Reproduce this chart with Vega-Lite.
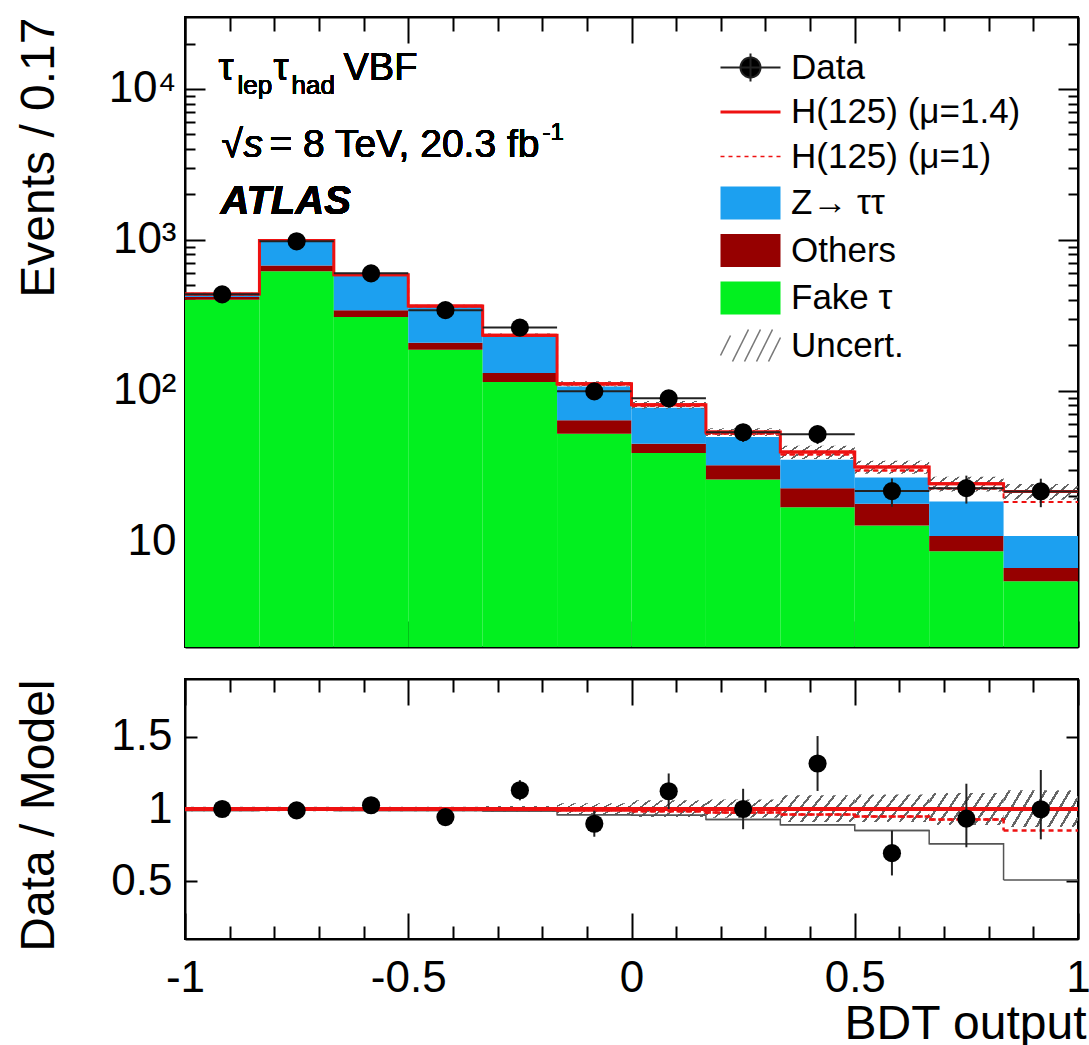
{
  "$schema": "https://vega.github.io/schema/vega-lite/v6.json",
  "padding": {"left": 14, "top": 15, "right": 2, "bottom": 2},
  "background": "white",
  "bounds": "flush",
  "spacing": 32,
  "config": {
    "view": {"stroke": "black", "strokeWidth": 2},
    "font": "Liberation Sans",
    "text": {"font": "Liberation Sans", "color": "black"},
    "axis": {
      "labelFont": "Liberation Sans", "titleFont": "Liberation Sans",
      "labelFontSize": 44, "titleFontSize": 48, "titleFontWeight": "normal",
      "labelColor": "black", "titleColor": "black",
      "domain": true, "domainColor": "black", "domainWidth": 2,
      "grid": false, "ticks": true, "tickColor": "black", "tickWidth": 2,
      "labelOverlap": false, "labelFlush": false, "labelBound": false, "zindex": 1
    }
  },
  "datasets": {
    "bins": [
      {"lo": -1, "hi": -0.8333, "mid": -0.9167, "fake": 400, "others": 418, "ztt": 432, "total": 437, "mu1": 436, "ulo": 428, "uhi": 446, "data": 435, "dlo": 414, "dhi": 456, "r": 1.0, "rlo": 0.952, "rhi": 1.048, "bkgr": 0.99, "mu1r": 0.997, "rulo": 0.985, "ruhi": 1.015},
      {"lo": -0.8333, "hi": -0.6667, "mid": -0.75, "fake": 618, "others": 677, "ztt": 985, "total": 991, "mu1": 989, "ulo": 971, "uhi": 1011, "data": 978, "dlo": 947, "dhi": 1009, "r": 0.99, "rlo": 0.958, "rhi": 1.022, "bkgr": 0.994, "mu1r": 0.998, "rulo": 0.985, "ruhi": 1.015},
      {"lo": -0.6667, "hi": -0.5, "mid": -0.5833, "fake": 308, "others": 341, "ztt": 582, "total": 587, "mu1": 586, "ulo": 575, "uhi": 599, "data": 600, "dlo": 575, "dhi": 625, "r": 1.026, "rlo": 0.984, "rhi": 1.068, "bkgr": 0.99, "mu1r": 0.997, "rulo": 0.985, "ruhi": 1.015},
      {"lo": -0.5, "hi": -0.3333, "mid": -0.4167, "fake": 187, "others": 208, "ztt": 360, "total": 364, "mu1": 363, "ulo": 357, "uhi": 371, "data": 342, "dlo": 324, "dhi": 360, "r": 0.944, "rlo": 0.893, "rhi": 0.995, "bkgr": 0.99, "mu1r": 0.997, "rulo": 0.985, "ruhi": 1.015},
      {"lo": -0.3333, "hi": -0.1667, "mid": -0.25, "fake": 114, "others": 131, "ztt": 230, "total": 233, "mu1": 232, "ulo": 227, "uhi": 239, "data": 262, "dlo": 246, "dhi": 278, "r": 1.13, "rlo": 1.06, "rhi": 1.2, "bkgr": 0.987, "mu1r": 0.996, "rulo": 0.98, "ruhi": 1.02},
      {"lo": -0.1667, "hi": 0, "mid": -0.0833, "fake": 51.8, "others": 63.6, "ztt": 106.6, "total": 111, "mu1": 110, "ulo": 106.5, "uhi": 115.5, "data": 99, "dlo": 89, "dhi": 109, "r": 0.898, "rlo": 0.808, "rhi": 0.988, "bkgr": 0.96, "mu1r": 0.99, "rulo": 0.96, "ruhi": 1.04},
      {"lo": 0, "hi": 0.1667, "mid": 0.0833, "fake": 38.6, "others": 44.5, "ztt": 77.1, "total": 80.7, "mu1": 79.5, "ulo": 75.9, "uhi": 85.5, "data": 89, "dlo": 79.6, "dhi": 98.4, "r": 1.123, "rlo": 1.0, "rhi": 1.246, "bkgr": 0.956, "mu1r": 0.985, "rulo": 0.945, "ruhi": 1.06},
      {"lo": 0.1667, "hi": 0.3333, "mid": 0.25, "fake": 25.8, "others": 32, "ztt": 49.4, "total": 53.2, "mu1": 51.9, "ulo": 50, "uhi": 56.4, "data": 53, "dlo": 45.7, "dhi": 60.3, "r": 1.0, "rlo": 0.86, "rhi": 1.14, "bkgr": 0.928, "mu1r": 0.975, "rulo": 0.94, "ruhi": 1.065},
      {"lo": 0.3333, "hi": 0.5, "mid": 0.4167, "fake": 16.9, "others": 22.6, "ztt": 34.9, "total": 39.2, "mu1": 37.7, "ulo": 35.3, "uhi": 43.1, "data": 51.5, "dlo": 44.3, "dhi": 58.7, "r": 1.315, "rlo": 1.125, "rhi": 1.505, "bkgr": 0.891, "mu1r": 0.962, "rulo": 0.91, "ruhi": 1.095},
      {"lo": 0.5, "hi": 0.6667, "mid": 0.5833, "fake": 12.8, "others": 17.8, "ztt": 26.6, "total": 31.2, "mu1": 29.6, "ulo": 28.1, "uhi": 34.3, "data": 21.6, "dlo": 17, "dhi": 26.2, "r": 0.694, "rlo": 0.54, "rhi": 0.85, "bkgr": 0.852, "mu1r": 0.948, "rulo": 0.91, "ruhi": 1.1},
      {"lo": 0.6667, "hi": 0.8333, "mid": 0.75, "fake": 8.61, "others": 10.9, "ztt": 18.4, "total": 24.2, "mu1": 22.5, "ulo": 21.5, "uhi": 26.9, "data": 22.6, "dlo": 17.85, "dhi": 27.35, "r": 0.933, "rlo": 0.735, "rhi": 1.175, "bkgr": 0.759, "mu1r": 0.928, "rulo": 0.89, "ruhi": 1.11},
      {"lo": 0.8333, "hi": 1, "mid": 0.9167, "fake": 5.45, "others": 6.68, "ztt": 10.9, "total": 21.5, "mu1": 18.3, "ulo": 18.9, "uhi": 24.1, "data": 21.5, "dlo": 16.9, "dhi": 26.1, "r": 0.998, "rlo": 0.79, "rhi": 1.27, "bkgr": 0.509, "mu1r": 0.852, "rulo": 0.875, "ruhi": 1.13}
    ]
  },
  "resolve": {"scale": {"color": "independent"}},
  "vconcat": [
    {
      "width": 893,
      "height": 630,
      "data": {"name": "bins"},
      "resolve": {"axis": {"x": "independent", "y": "independent"}},
      "layer": [
        {
          "mark": {"type": "rect"},
          "encoding": {
            "x": {"field": "lo", "type": "quantitative", "scale": {"domain": [-1, 1], "nice": false},
              "axis": {"orient": "bottom", "values": [-1, -0.5, 0, 0.5, 1], "labels": false, "title": null, "tickSize": -26}},
            "x2": {"field": "hi"},
            "y": {"field": "fake", "type": "quantitative", "scale": {"type": "log", "domain": [2, 30000], "nice": false},
              "axis": {"orient": "left", "values": [10, 100, 1000, 10000], "tickSize": -20,
                "labelExpr": "datum.value == 10 ? '10' : datum.value == 100 ? '10²' : datum.value == 1000 ? '10³' : '10⁴'",
                "labelPadding": 29, "title": "Events / 0.17", "titleAnchor": "end", "titlePadding": 12, "minExtent": 110, "maxExtent": 110}},
            "y2": {"datum": 2},
            "color": {"datum": "Fake τ", "type": "nominal",
              "scale": {"domain": ["Data", "H(125) (μ=1.4)", "H(125) (μ=1)", "Z→ ττ", "Others", "Fake τ", "Uncert."],
                "range": ["#000000", "#ee1111", "#ee1111", "#1ca0f0", "#960000", "#02f01f", "#777777"]},
              "legend": {"title": null, "orient": "none", "legendX": 548, "legendY": 33, "padding": 0,
                "symbolSize": 1600, "symbolStrokeWidth": 0, "labelFontSize": 35, "labelFont": "Liberation Sans", "labelColor": "black",
                "labelOffset": 23, "rowPadding": 8.5, "labelLimit": 500,
                "encode": {"symbols": {"update": {
                  "shape": {"signal": "datum.value === 'Data' ? 'M-1.5,0H1.5M0,-0.7V0.7M0.5,0A0.5,0.5 0 1,1 -0.5,0A0.5,0.5 0 1,1 0.5,0Z' : datum.value === 'Uncert.' ? 'M-1.5,0.5L-1.0,-0.5M-0.9,0.8L-0.1,-0.8M-0.3,0.8L0.5,-0.8M0.3,0.8L1.1,-0.8M0.9,0.8L1.5,-0.4' : indexof(['H(125) (μ=1.4)', 'H(125) (μ=1)'], datum.value) >= 0 ? 'M-1.5,0H1.5' : 'M-1.5,-0.82H1.5V0.82H-1.5Z'"},
                  "fill": {"signal": "datum.value === 'Data' ? 'black' : datum.value === 'Others' ? '#960000' : datum.value === 'Fake τ' ? '#02f01f' : datum.value === 'Z→ ττ' ? '#1ca0f0' : 'transparent'"},
                  "stroke": {"signal": "datum.value === 'Data' ? '#222222' : datum.value === 'Uncert.' ? '#777777' : indexof(['H(125) (μ=1.4)', 'H(125) (μ=1)'], datum.value) >= 0 ? '#ee1111' : 'transparent'"},
                  "strokeWidth": {"signal": "datum.value === 'H(125) (μ=1.4)' ? 3 : datum.value === 'Data' ? 2 : 1.5"},
                  "strokeDash": {"signal": "datum.value === 'H(125) (μ=1)' ? [4, 4] : [1, 0]"},
                  "opacity": {"value": 1}
                }}}}}
          }
        },
        {
          "mark": {"type": "rect"},
          "encoding": {
            "x": {"field": "lo", "type": "quantitative",
              "axis": {"orient": "bottom", "values": [-0.9, -0.8, -0.7, -0.6, -0.4, -0.3, -0.2, -0.1, 0.1, 0.2, 0.3, 0.4, 0.6, 0.7, 0.8, 0.9], "labels": false, "title": null, "tickSize": -14, "domain": false}},
            "x2": {"field": "hi"},
            "y": {"field": "others", "type": "quantitative",
              "axis": {"orient": "left", "values": [3, 4, 5, 6, 7, 8, 9, 20, 30, 40, 50, 60, 70, 80, 90, 200, 300, 400, 500, 600, 700, 800, 900, 2000, 3000, 4000, 5000, 6000, 7000, 8000, 9000, 20000], "labels": false, "title": null, "tickSize": -10, "domain": false}},
            "y2": {"field": "fake"},
            "color": {"datum": "Others", "type": "nominal"}
          }
        },
        {
          "mark": {"type": "rect"},
          "encoding": {
            "x": {"field": "lo", "type": "quantitative",
              "axis": {"orient": "top", "values": [-1, -0.5, 0, 0.5, 1], "labels": false, "title": null, "tickSize": -26}},
            "x2": {"field": "hi"},
            "y": {"field": "ztt", "type": "quantitative",
              "axis": {"orient": "right", "values": [10, 100, 1000, 10000], "labels": false, "title": null, "tickSize": -20}},
            "y2": {"field": "others"},
            "color": {"datum": "Z→ ττ", "type": "nominal"}
          }
        },
        {
          "mark": {"type": "rect", "fill": {"gradient": "linear", "x1": 0, "y1": 0, "x2": 1.2, "y2": 0.3, "stops": [
            {"offset": 0, "color": "rgba(255,255,255,0)"}, {"offset": 0.0485, "color": "rgba(255,255,255,0)"}, {"offset": 0.0485, "color": "#666666"}, {"offset": 0.0765, "color": "#666666"}, {"offset": 0.0765, "color": "rgba(255,255,255,0)"},
            {"offset": 0.1735, "color": "rgba(255,255,255,0)"}, {"offset": 0.1735, "color": "#666666"}, {"offset": 0.2015, "color": "#666666"}, {"offset": 0.2015, "color": "rgba(255,255,255,0)"},
            {"offset": 0.2985, "color": "rgba(255,255,255,0)"}, {"offset": 0.2985, "color": "#666666"}, {"offset": 0.3265, "color": "#666666"}, {"offset": 0.3265, "color": "rgba(255,255,255,0)"},
            {"offset": 0.4235, "color": "rgba(255,255,255,0)"}, {"offset": 0.4235, "color": "#666666"}, {"offset": 0.4515, "color": "#666666"}, {"offset": 0.4515, "color": "rgba(255,255,255,0)"},
            {"offset": 0.5485, "color": "rgba(255,255,255,0)"}, {"offset": 0.5485, "color": "#666666"}, {"offset": 0.5765, "color": "#666666"}, {"offset": 0.5765, "color": "rgba(255,255,255,0)"},
            {"offset": 0.6735, "color": "rgba(255,255,255,0)"}, {"offset": 0.6735, "color": "#666666"}, {"offset": 0.7015, "color": "#666666"}, {"offset": 0.7015, "color": "rgba(255,255,255,0)"},
            {"offset": 0.7985, "color": "rgba(255,255,255,0)"}, {"offset": 0.7985, "color": "#666666"}, {"offset": 0.8265, "color": "#666666"}, {"offset": 0.8265, "color": "rgba(255,255,255,0)"},
            {"offset": 0.9235, "color": "rgba(255,255,255,0)"}, {"offset": 0.9235, "color": "#666666"}, {"offset": 0.9515, "color": "#666666"}, {"offset": 0.9515, "color": "rgba(255,255,255,0)"},
            {"offset": 1, "color": "rgba(255,255,255,0)"}]}},
          "encoding": {
            "x": {"field": "lo", "type": "quantitative",
              "axis": {"orient": "top", "values": [-0.9, -0.8, -0.7, -0.6, -0.4, -0.3, -0.2, -0.1, 0.1, 0.2, 0.3, 0.4, 0.6, 0.7, 0.8, 0.9], "labels": false, "title": null, "tickSize": -14, "domain": false}},
            "x2": {"field": "hi"},
            "y": {"field": "ulo", "type": "quantitative",
              "axis": {"orient": "right", "values": [3, 4, 5, 6, 7, 8, 9, 20, 30, 40, 50, 60, 70, 80, 90, 200, 300, 400, 500, 600, 700, 800, 900, 2000, 3000, 4000, 5000, 6000, 7000, 8000, 9000, 20000], "labels": false, "title": null, "tickSize": -10, "domain": false}},
            "y2": {"field": "uhi"}
          }
        },
        {
          "mark": {"type": "rule", "color": "#ee1111", "strokeWidth": 2, "strokeDash": [5, 4]},
          "encoding": {
            "x": {"field": "lo", "type": "quantitative", "axis": null},
            "x2": {"field": "hi"},
            "y": {"field": "mu1", "type": "quantitative", "axis": null}
          }
        },
        {
          "mark": {"type": "line", "color": "#ee1111", "strokeWidth": 2, "strokeDash": [5, 4], "interpolate": "step-after"},
          "encoding": {
            "x": {"field": "lo", "type": "quantitative", "axis": null},
            "y": {"field": "mu1", "type": "quantitative", "axis": null}
          }
        },
        {
          "mark": {"type": "rule", "color": "#ee1111", "strokeWidth": 3},
          "encoding": {
            "x": {"field": "lo", "type": "quantitative", "axis": null},
            "x2": {"field": "hi"},
            "y": {"field": "total", "type": "quantitative", "axis": null}
          }
        },
        {
          "mark": {"type": "line", "color": "#ee1111", "strokeWidth": 3, "interpolate": "step-after"},
          "encoding": {
            "x": {"field": "lo", "type": "quantitative", "axis": null},
            "y": {"field": "total", "type": "quantitative", "axis": null}
          }
        },
        {
          "mark": {"type": "rule", "color": "#222222", "strokeWidth": 2},
          "encoding": {
            "x": {"field": "lo", "type": "quantitative", "axis": null},
            "x2": {"field": "hi"},
            "y": {"field": "data", "type": "quantitative", "axis": null}
          }
        },
        {
          "mark": {"type": "rule", "color": "#222222", "strokeWidth": 2},
          "encoding": {
            "x": {"field": "mid", "type": "quantitative", "axis": null},
            "y": {"field": "dlo", "type": "quantitative", "axis": null},
            "y2": {"field": "dhi"}
          }
        },
        {
          "mark": {"type": "circle", "color": "black", "size": 330, "opacity": 1},
          "encoding": {
            "x": {"field": "mid", "type": "quantitative", "axis": null},
            "y": {"field": "data", "type": "quantitative", "axis": null}
          }
        },
        {
          "mark": {"type": "text", "text": "τ", "fontSize": 38, "align": "left", "baseline": "alphabetic"},
          "encoding": {"x": {"datum": -0.925, "type": "quantitative", "axis": null}, "y": {"datum": 11430, "type": "quantitative", "axis": null}}
        },
        {
          "mark": {"type": "text", "text": "lep", "fontSize": 26, "align": "left", "baseline": "alphabetic", "dx": 19, "dy": 14},
          "encoding": {"x": {"datum": -0.925, "type": "quantitative", "axis": null}, "y": {"datum": 11430, "type": "quantitative", "axis": null}}
        },
        {
          "mark": {"type": "text", "text": "τ", "fontSize": 38, "align": "left", "baseline": "alphabetic", "dx": 55},
          "encoding": {"x": {"datum": -0.925, "type": "quantitative", "axis": null}, "y": {"datum": 11430, "type": "quantitative", "axis": null}}
        },
        {
          "mark": {"type": "text", "text": "had", "fontSize": 26, "align": "left", "baseline": "alphabetic", "dx": 73, "dy": 14},
          "encoding": {"x": {"datum": -0.925, "type": "quantitative", "axis": null}, "y": {"datum": 11430, "type": "quantitative", "axis": null}}
        },
        {
          "mark": {"type": "text", "text": "VBF", "fontSize": 38, "align": "left", "baseline": "alphabetic", "dx": 125},
          "encoding": {"x": {"datum": -0.925, "type": "quantitative", "axis": null}, "y": {"datum": 11430, "type": "quantitative", "axis": null}}
        },
        {
          "mark": {"type": "text", "text": "√", "fontSize": 39, "align": "left", "baseline": "alphabetic", "dx": 3},
          "encoding": {"x": {"datum": -0.925, "type": "quantitative", "axis": null}, "y": {"datum": 3533, "type": "quantitative", "axis": null}}
        },
        {
          "mark": {"type": "text", "text": "s", "fontSize": 39, "fontStyle": "italic", "align": "left", "baseline": "alphabetic", "dx": 25},
          "encoding": {"x": {"datum": -0.925, "type": "quantitative", "axis": null}, "y": {"datum": 3533, "type": "quantitative", "axis": null}}
        },
        {
          "mark": {"type": "text", "text": "= 8 TeV, 20.3 fb", "fontSize": 39, "align": "left", "baseline": "alphabetic", "dx": 51},
          "encoding": {"x": {"datum": -0.925, "type": "quantitative", "axis": null}, "y": {"datum": 3533, "type": "quantitative", "axis": null}}
        },
        {
          "mark": {"type": "text", "text": "-1", "fontSize": 24, "align": "left", "baseline": "alphabetic", "dx": 324, "dy": -17},
          "encoding": {"x": {"datum": -0.925, "type": "quantitative", "axis": null}, "y": {"datum": 3533, "type": "quantitative", "axis": null}}
        },
        {
          "mark": {"type": "text", "text": "ATLAS", "fontSize": 40, "fontStyle": "italic", "fontWeight": "bold", "align": "left", "baseline": "alphabetic", "dx": 2},
          "encoding": {"x": {"datum": -0.925, "type": "quantitative", "axis": null}, "y": {"datum": 1480, "type": "quantitative", "axis": null}}
        }
      ]
    },
    {
      "width": 893,
      "height": 260,
      "data": {"name": "bins"},
      "resolve": {"axis": {"x": "independent", "y": "independent"}},
      "layer": [
        {
          "mark": {"type": "rect", "fill": {"gradient": "linear", "x1": 0, "y1": 0, "x2": 1.2, "y2": 0.35, "stops": [
            {"offset": 0, "color": "rgba(255,255,255,0)"}, {"offset": 0.0485, "color": "rgba(255,255,255,0)"}, {"offset": 0.0485, "color": "#666666"}, {"offset": 0.0765, "color": "#666666"}, {"offset": 0.0765, "color": "rgba(255,255,255,0)"},
            {"offset": 0.1735, "color": "rgba(255,255,255,0)"}, {"offset": 0.1735, "color": "#666666"}, {"offset": 0.2015, "color": "#666666"}, {"offset": 0.2015, "color": "rgba(255,255,255,0)"},
            {"offset": 0.2985, "color": "rgba(255,255,255,0)"}, {"offset": 0.2985, "color": "#666666"}, {"offset": 0.3265, "color": "#666666"}, {"offset": 0.3265, "color": "rgba(255,255,255,0)"},
            {"offset": 0.4235, "color": "rgba(255,255,255,0)"}, {"offset": 0.4235, "color": "#666666"}, {"offset": 0.4515, "color": "#666666"}, {"offset": 0.4515, "color": "rgba(255,255,255,0)"},
            {"offset": 0.5485, "color": "rgba(255,255,255,0)"}, {"offset": 0.5485, "color": "#666666"}, {"offset": 0.5765, "color": "#666666"}, {"offset": 0.5765, "color": "rgba(255,255,255,0)"},
            {"offset": 0.6735, "color": "rgba(255,255,255,0)"}, {"offset": 0.6735, "color": "#666666"}, {"offset": 0.7015, "color": "#666666"}, {"offset": 0.7015, "color": "rgba(255,255,255,0)"},
            {"offset": 0.7985, "color": "rgba(255,255,255,0)"}, {"offset": 0.7985, "color": "#666666"}, {"offset": 0.8265, "color": "#666666"}, {"offset": 0.8265, "color": "rgba(255,255,255,0)"},
            {"offset": 0.9235, "color": "rgba(255,255,255,0)"}, {"offset": 0.9235, "color": "#666666"}, {"offset": 0.9515, "color": "#666666"}, {"offset": 0.9515, "color": "rgba(255,255,255,0)"},
            {"offset": 1, "color": "rgba(255,255,255,0)"}]}},
          "encoding": {
            "x": {"field": "lo", "type": "quantitative", "scale": {"domain": [-1, 1], "nice": false},
              "axis": {"orient": "bottom", "values": [-1, -0.5, 0, 0.5, 1], "tickSize": -26,
                "labelExpr": "'' + datum.value",
                "labelPadding": 78, "labelBaseline": "alphabetic",
                "title": "BDT output", "titleAnchor": "end", "titleX": 901, "titleAlign": "right", "titleBaseline": "alphabetic", "titleY": 99}},
            "x2": {"field": "hi"},
            "y": {"field": "rulo", "type": "quantitative", "scale": {"domain": [0.1, 1.9], "nice": false},
              "axis": {"orient": "left", "values": [0.5, 1, 1.5], "tickSize": -12, "labelExpr": "'' + datum.value", "labelPadding": 25,
                "title": "Data / Model", "titleAnchor": "end", "titlePadding": 12, "minExtent": 110, "maxExtent": 110}},
            "y2": {"field": "ruhi"}
          }
        },
        {
          "mark": {"type": "rule", "color": "#555555", "strokeWidth": 1.5},
          "encoding": {
            "x": {"field": "lo", "type": "quantitative",
              "axis": {"orient": "bottom", "values": [-0.9, -0.8, -0.7, -0.6, -0.4, -0.3, -0.2, -0.1, 0.1, 0.2, 0.3, 0.4, 0.6, 0.7, 0.8, 0.9], "labels": false, "title": null, "tickSize": -13, "domain": false}},
            "x2": {"field": "hi"},
            "y": {"field": "bkgr", "type": "quantitative",
              "axis": {"orient": "right", "values": [0.5, 1, 1.5], "labels": false, "title": null, "tickSize": -12}}
          }
        },
        {
          "mark": {"type": "line", "color": "#555555", "strokeWidth": 1.5, "interpolate": "step-after"},
          "encoding": {
            "x": {"field": "lo", "type": "quantitative",
              "axis": {"orient": "top", "values": [-1, -0.5, 0, 0.5, 1], "labels": false, "title": null, "tickSize": -26}},
            "y": {"field": "bkgr", "type": "quantitative", "axis": null}
          }
        },
        {
          "mark": {"type": "rule", "color": "#ee1111", "strokeWidth": 3},
          "encoding": {"y": {"datum": 1, "type": "quantitative", "axis": null}}
        },
        {
          "mark": {"type": "rule", "color": "#ee1111", "strokeWidth": 2.5, "strokeDash": [5, 4]},
          "encoding": {
            "x": {"field": "lo", "type": "quantitative",
              "axis": {"orient": "top", "values": [-0.9, -0.8, -0.7, -0.6, -0.4, -0.3, -0.2, -0.1, 0.1, 0.2, 0.3, 0.4, 0.6, 0.7, 0.8, 0.9], "labels": false, "title": null, "tickSize": -13, "domain": false}},
            "x2": {"field": "hi"},
            "y": {"field": "mu1r", "type": "quantitative", "axis": null}
          }
        },
        {
          "mark": {"type": "line", "color": "#ee1111", "strokeWidth": 2.5, "strokeDash": [5, 4], "interpolate": "step-after"},
          "encoding": {
            "x": {"field": "lo", "type": "quantitative", "axis": null},
            "y": {"field": "mu1r", "type": "quantitative", "axis": null}
          }
        },
        {
          "mark": {"type": "rule", "color": "#222222", "strokeWidth": 2},
          "encoding": {
            "x": {"field": "mid", "type": "quantitative", "axis": null},
            "y": {"field": "rlo", "type": "quantitative", "axis": null},
            "y2": {"field": "rhi"}
          }
        },
        {
          "mark": {"type": "circle", "color": "black", "size": 330, "opacity": 1},
          "encoding": {
            "x": {"field": "mid", "type": "quantitative", "axis": null},
            "y": {"field": "r", "type": "quantitative", "axis": null}
          }
        }
      ]
    }
  ]
}
